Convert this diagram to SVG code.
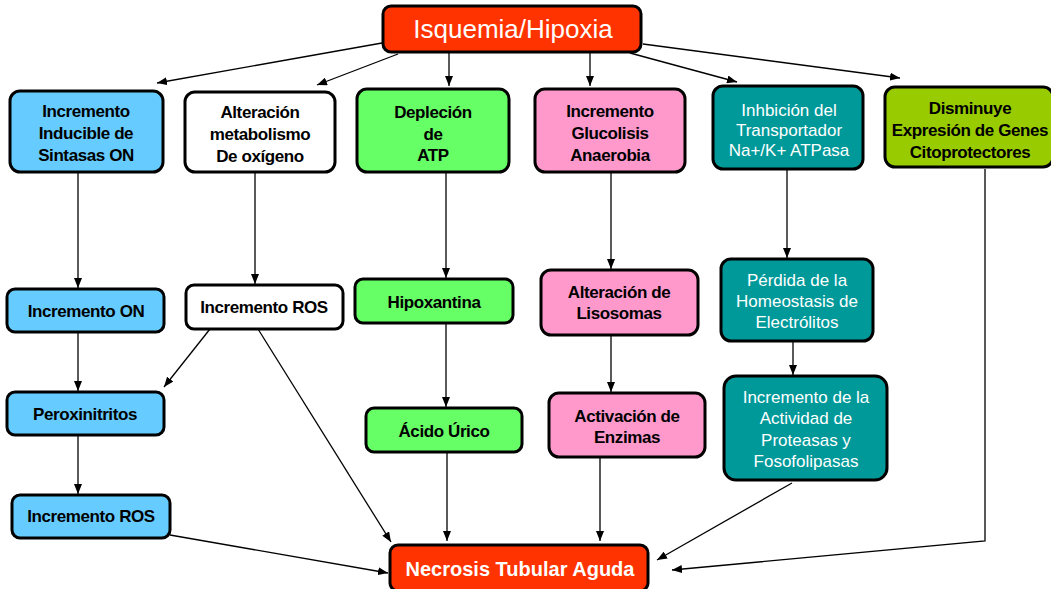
<svg xmlns="http://www.w3.org/2000/svg" width="1051" height="589" viewBox="0 0 1051 589">
<style>
  .box { stroke: #000; stroke-width: 3; }
  .b { font-family: "Liberation Sans", Arial, sans-serif; font-weight: bold; font-size: 17px; fill: #000; text-anchor: middle; letter-spacing: -0.4px; }
  .w { font-family: "Liberation Sans", Arial, sans-serif; font-size: 17px; fill: #fff; text-anchor: middle; }
  .blue { fill: #66CCFF; }
  .white { fill: #FFFFFF; }
  .green { fill: #66FF66; }
  .pink { fill: #FF99CC; }
  .teal { fill: #009999; }
  .lime { fill: #99CC00; }
  .red { fill: #FF3300; }
  .conn { fill: none; stroke: #000; stroke-width: 1.3; marker-end: url(#arr); }
</style>
<defs>
  <marker id="arr" markerUnits="userSpaceOnUse" markerWidth="10" markerHeight="8" refX="10" refY="4" orient="auto">
    <path d="M0,0 L10,4 L0,8 z" fill="#000"/>
  </marker>
</defs>
<rect width="1051" height="589" fill="#fff"/>

<g id="connectors">
  <path class="conn" d="M382,43 L157,83"/>
  <path class="conn" d="M398,54 L317,85"/>
  <path class="conn" d="M449,52 L449,86"/>
  <path class="conn" d="M590,52 L590,86"/>
  <path class="conn" d="M630,53 L737,82"/>
  <path class="conn" d="M643,44 L900,78"/>
  <path class="conn" d="M78,172 L78,288"/>
  <path class="conn" d="M255,172 L255,284"/>
  <path class="conn" d="M446,172 L446,278"/>
  <path class="conn" d="M611,172 L611,269"/>
  <path class="conn" d="M787,169 L787,258"/>
  <path class="conn" d="M78,332 L78,391"/>
  <path class="conn" d="M210,329 L164,387"/>
  <path class="conn" d="M258,329 L391,542"/>
  <path class="conn" d="M78,435 L78,494"/>
  <path class="conn" d="M170,535 L388,573"/>
  <path class="conn" d="M446,323 L446,407"/>
  <path class="conn" d="M447,452 L447,541"/>
  <path class="conn" d="M611,335 L611,392"/>
  <path class="conn" d="M600,457 L600,541"/>
  <path class="conn" d="M793,341 L793,375"/>
  <path class="conn" d="M792,483 L657,560"/>
  <path class="conn" d="M985,169 L985,541 L672,570"/>
</g>

<g id="isquemia">
  <rect class="box red" x="383" y="6" width="258" height="46" rx="8"/>
  <text x="513" y="38" font-family="Liberation Sans, Arial, sans-serif" font-size="26" fill="#fff" text-anchor="middle">Isquemia/Hipoxia</text>
</g>

<g id="sintasas">
  <rect class="box blue" x="10" y="91" width="153" height="81" rx="10"/>
  <text class="b" x="86" y="117">Incremento</text>
  <text class="b" x="86" y="139">Inducible de</text>
  <text class="b" x="86" y="161">Sintasas ON</text>
</g>

<g id="alteracion-oxigeno">
  <rect class="box white" x="185" y="92" width="150" height="80" rx="10"/>
  <text class="b" x="260" y="118">Alteración</text>
  <text class="b" x="260" y="140">metabolismo</text>
  <text class="b" x="260" y="162">De oxígeno</text>
</g>

<g id="depleccion">
  <rect class="box green" x="357" y="89" width="152" height="83" rx="10"/>
  <text class="b" x="433" y="118">Depleción</text>
  <text class="b" x="433" y="140">de</text>
  <text class="b" x="433" y="161">ATP</text>
</g>

<g id="glucolisis">
  <rect class="box pink" x="535" y="89" width="150" height="83" rx="10"/>
  <text class="b" x="610" y="117">Incremento</text>
  <text class="b" x="610" y="139">Glucolisis</text>
  <text class="b" x="610" y="161">Anaerobia</text>
</g>

<g id="transportador">
  <rect class="box teal" x="713" y="86" width="150" height="83" rx="10"/>
  <text class="w" x="789" y="116">Inhbición del</text>
  <text class="w" x="789" y="136">Transportador</text>
  <text class="w" x="789" y="156">Na+/K+ ATPasa</text>
</g>

<g id="genes">
  <rect class="box lime" x="885" y="87" width="168" height="80" rx="10"/>
  <text class="b" x="970" y="114">Disminuye</text>
  <text class="b" x="970" y="136">Expresión de Genes</text>
  <text class="b" x="970" y="158">Citoprotectores</text>
</g>

<g id="incremento-on">
  <rect class="box blue" x="7" y="289" width="157" height="43" rx="8"/>
  <text class="b" x="86" y="317">Incremento ON</text>
</g>

<g id="incremento-ros-1">
  <rect class="box white" x="186" y="285" width="157" height="44" rx="8"/>
  <text class="b" x="264" y="313">Incremento ROS</text>
</g>

<g id="peroxinitritos">
  <rect class="box blue" x="7" y="392" width="157" height="43" rx="8"/>
  <text class="b" x="85" y="420">Peroxinitritos</text>
</g>

<g id="incremento-ros-2">
  <rect class="box blue" x="12" y="495" width="158" height="43" rx="8"/>
  <text class="b" x="91" y="522">Incremento ROS</text>
</g>

<g id="hipoxantina">
  <rect class="box green" x="355" y="279" width="158" height="44" rx="8"/>
  <text class="b" x="434" y="308">Hipoxantina</text>
</g>

<g id="acido-urico">
  <rect class="box green" x="366" y="408" width="156" height="44" rx="8"/>
  <text class="b" x="444" y="437">Ácido Úrico</text>
</g>

<g id="lisosomas">
  <rect class="box pink" x="541" y="270" width="157" height="65" rx="10"/>
  <text class="b" x="619" y="298">Alteración de</text>
  <text class="b" x="619" y="319">Lisosomas</text>
</g>

<g id="enzimas">
  <rect class="box pink" x="549" y="393" width="156" height="64" rx="10"/>
  <text class="b" x="627" y="422">Activación de</text>
  <text class="b" x="627" y="443">Enzimas</text>
</g>

<g id="electrolitos">
  <rect class="box teal" x="721" y="259" width="152" height="82" rx="10"/>
  <text class="w" x="797" y="286">Pérdida de la</text>
  <text class="w" x="797" y="307">Homeostasis de</text>
  <text class="w" x="797" y="328">Electrólitos</text>
</g>

<g id="proteasas">
  <rect class="box teal" x="724" y="376" width="163" height="104" rx="12"/>
  <text class="w" x="806" y="403">Incremento de la</text>
  <text class="w" x="806" y="424">Actividad de</text>
  <text class="w" x="806" y="446">Proteasas y</text>
  <text class="w" x="806" y="467">Fosofolipasas</text>
</g>

<g id="necrosis">
  <rect class="box red" x="390" y="545" width="258" height="46" rx="8"/>
  <text x="520" y="576" font-family="Liberation Sans, Arial, sans-serif" font-weight="bold" font-size="20" fill="#fff" text-anchor="middle">Necrosis Tubular Aguda</text>
</g>
</svg>
